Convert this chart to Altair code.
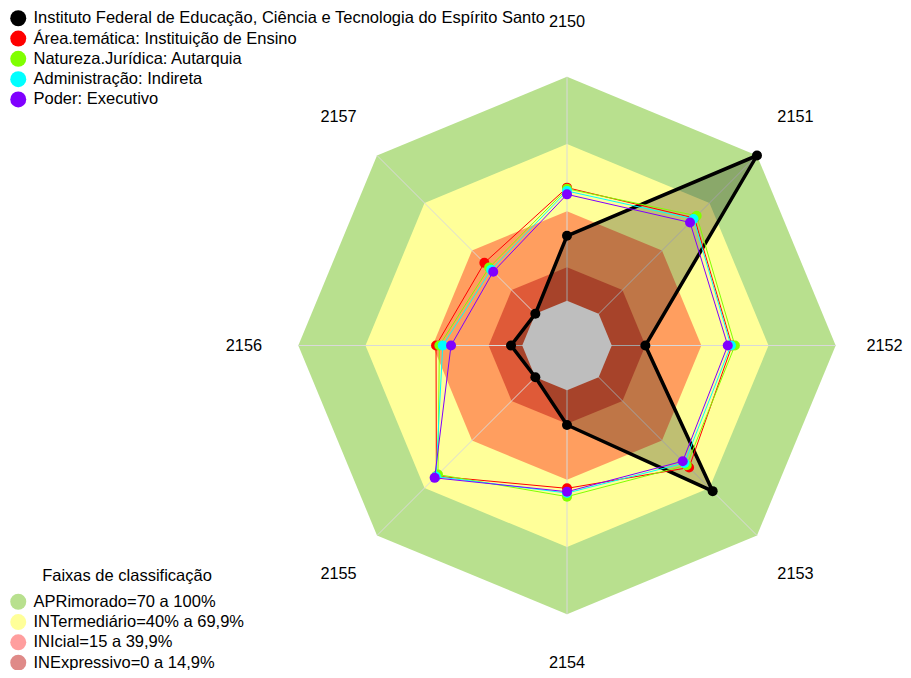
import altair as alt
import pandas as pd

# ---------------- data ----------------
axes = ["2150", "2151", "2152", "2153", "2154", "2155", "2156", "2157"]

series_names = [
    "Instituto Federal de Educação, Ciência e Tecnologia do Espírito Santo",
    "Área.temática: Instituição de Ensino",
    "Natureza.Jurídica: Autarquia",
    "Administração: Indireta",
    "Poder: Executivo",
]
series_colors = ["#000000", "#FF0000", "#80FF00", "#00FFFF", "#8000FF"]

ifes = [29, 100, 15, 72, 15.5, 0, 5, 0]
area_tematica = [50.5, 60.5, 53.7, 57.1, 43.8, 62.5, 38.5, 32.2]
natureza = [50, 61.9, 55, 55.6, 47.5, 61.5, 37, 29.2]
administracao = [49, 59.9, 53.2, 54.2, 45.9, 62.8, 35.5, 27.9]
poder = [47.5, 57.7, 51.8, 53.1, 45.3, 63.6, 31.8, 26.6]
series_values = [ifes, area_tematica, natureza, administracao, poder]

band_labels = [
    "APRimorado=70 a 100%",
    "INTermediário=40% a 69,9%",
    "INIcial=15 a 39,9%",
    "INExpressivo=0 a 14,9%",
]
band_limits = [100, 70, 40, 15]
band_colors = ["#B8E08E", "#FFFF99", "rgba(255,0,0,0.38)", "rgba(192,22,18,0.5)"]
center_limit = 0
# radial position (in value units) of the axis labels
label_values = [124.3, 124.3, 121.8, 124.3, 121.6, 124.3, 124.3, 124.3]

# ---------------- layout ----------------
FONT = "Liberation Sans"
W, H = 895, 662
CX, CY = 559, 337.5      # centre of the radar in the svg
K = 2.239                # pixels per value unit
OFFSET = 20              # value 0 sits at 1/6 of the full radius
XD = [-CX / K, (W - CX) / K]
YD = [-(H - CY) / K, CY / K]

rows = []
for name, vals in zip(series_names, series_values):
    for i, v in enumerate(vals):
        rows.append({"series": name, "idx": i, "axis": axes[i], "value": v})
series_df = pd.DataFrame(rows)

band_rows = []
for lab, lim in zip(band_labels, band_limits):
    for i in range(len(axes)):
        band_rows.append({"band": lab, "idx": i, "value": lim})
band_df = pd.DataFrame(band_rows)
center_df = pd.DataFrame({"idx": list(range(len(axes))), "value": [center_limit] * len(axes)})
spoke_df = pd.DataFrame({"idx": list(range(len(axes))), "value": [100] * len(axes)})
label_df = pd.DataFrame({"idx": list(range(len(axes))), "axis": axes, "value": label_values})


def polar(ch):
    return ch.transform_calculate(
        px=f"(datum.value + {OFFSET}) * sin(datum.idx * PI / 4)",
        py=f"(datum.value + {OFFSET}) * cos(datum.idx * PI / 4)",
    )


X = alt.X("px:Q", scale=alt.Scale(domain=XD, nice=False, zero=False), axis=None)
Y = alt.Y("py:Q", scale=alt.Scale(domain=YD, nice=False, zero=False), axis=None)
ORDER = alt.Order("idx:Q")

band_scale = alt.Scale(domain=band_labels, range=band_colors)
band_legend = alt.Legend(
    title="Faixas de classificação", orient="none", legendX=2, legendY=560,
    symbolType="circle", symbolSize=256, symbolStrokeWidth=0,
    labelFontSize=16.5, labelFont=FONT, labelColor="black", labelOffset=7, labelLimit=0,
    titleFontSize=16.5, titleFont=FONT, titleFontWeight="normal", titleColor="black",
    titleAnchor="middle", titlePadding=9, titleLimit=0, rowPadding=3.3, padding=0,
)

layers = []
for lab in band_labels:
    layers.append(
        polar(alt.Chart(band_df).transform_filter(alt.datum.band == lab))
        .mark_line(filled=True, interpolate="linear-closed", strokeWidth=0)
        .encode(x=X, y=Y, order=ORDER,
                fill=alt.Fill("band:N", scale=band_scale, legend=band_legend))
    )

spokes = (
    polar(alt.Chart(spoke_df))
    .transform_calculate(zero="0")
    .mark_rule(color="#D9D9D9", strokeWidth=1)
    .encode(x=X, y=Y, x2="zero:Q", y2="zero:Q")
)
layers.append(spokes)

black_fill = (
    polar(alt.Chart(series_df).transform_filter(alt.datum.series == series_names[0]))
    .mark_line(filled=True, interpolate="linear-closed", strokeWidth=0, fillOpacity=0.25)
    .encode(x=X, y=Y, order=ORDER, fill=alt.value("black"))
)
layers.append(black_fill)

center = (
    polar(alt.Chart(center_df))
    .mark_line(filled=True, interpolate="linear-closed", strokeWidth=0)
    .encode(x=X, y=Y, order=ORDER, fill=alt.value("#BEBEBE"))
)
layers.append(center)

series_scale = alt.Scale(domain=series_names, range=series_colors)
series_legend = alt.Legend(
    orient="none", legendX=2, legendY=2,
    symbolType="circle", symbolSize=256, symbolStrokeWidth=0,
    labelFontSize=16.5, labelFont=FONT, labelColor="black", labelOffset=7, labelLimit=0,
    rowPadding=3.3, padding=0, title=None,
)

for k, name in enumerate(series_names):
    base = polar(alt.Chart(series_df).transform_filter(alt.datum.series == name))
    sw = 3.5 if k == 0 else 1
    layers.append(
        base.mark_line(interpolate="linear-closed", strokeWidth=sw)
        .encode(x=X, y=Y, order=ORDER,
                stroke=alt.Stroke("series:N", scale=series_scale))
    )
    layers.append(
        base.mark_circle(size=100, opacity=1)
        .encode(x=X, y=Y,
                color=alt.Color("series:N", scale=series_scale, legend=series_legend,
                                sort=series_names))
    )

labels = (
    polar(alt.Chart(label_df))
    .mark_text(fontSize=16.3, font=FONT, color="black", align="center", baseline="middle")
    .encode(x=X, y=Y, text="axis:N")
)
layers.append(labels)

chart = (
    alt.layer(*layers)
    .properties(width=W, height=H, padding=0, autosize=alt.AutoSizeParams(type="none"))
    .configure_view(stroke=None)
)

chart.save("out.html", embed_options={"renderer": "svg", "actions": False})
